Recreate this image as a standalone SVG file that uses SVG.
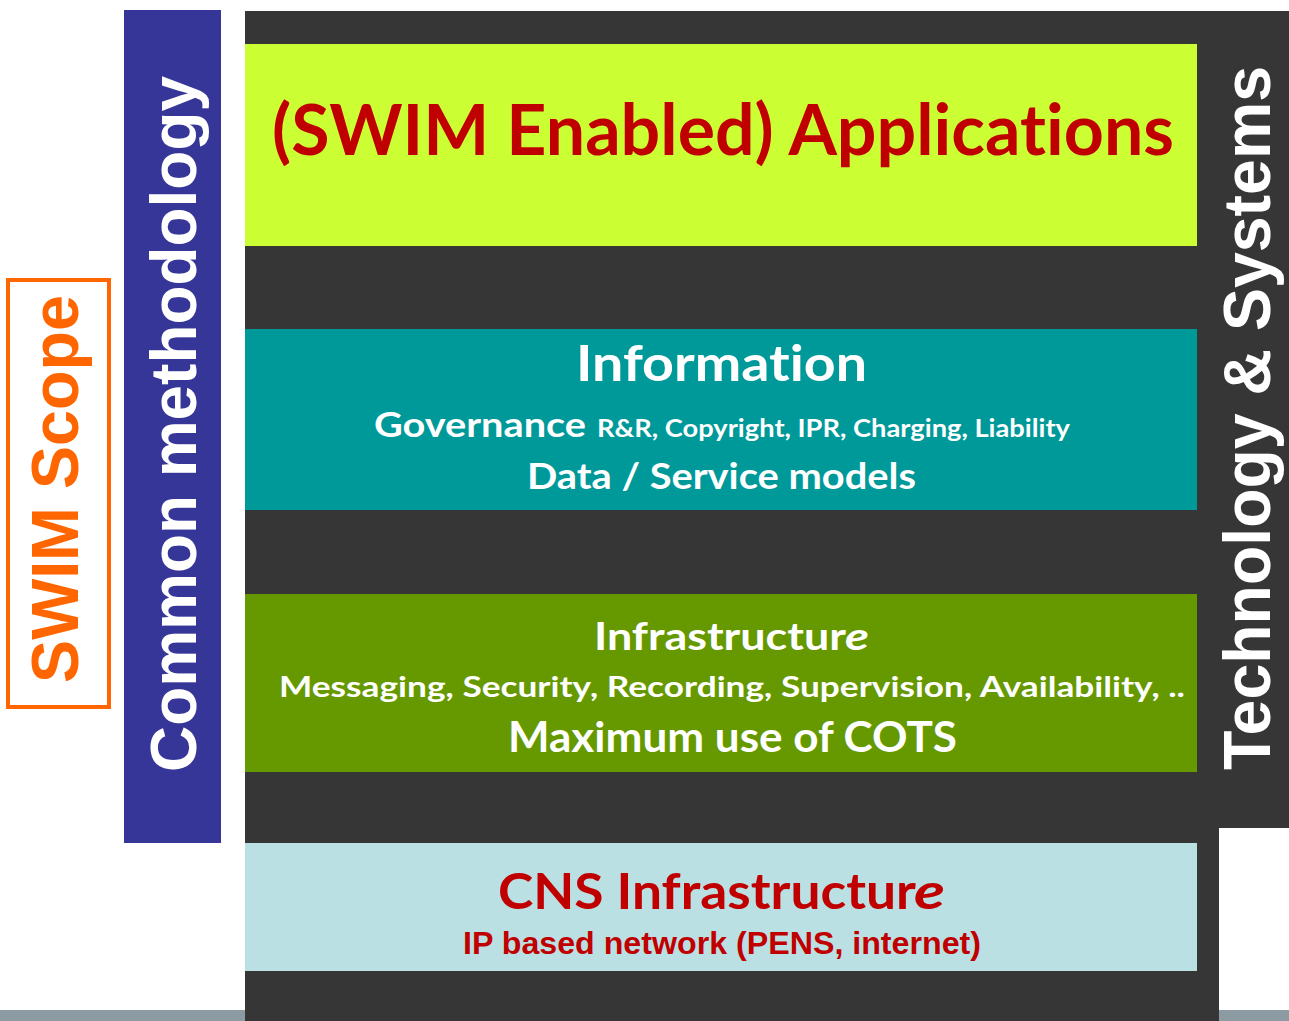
<svg xmlns="http://www.w3.org/2000/svg" width="1289" height="1021" viewBox="0 0 1289 1021">
<style>
.cal{font-family:Lato,"Open Sans","Liberation Sans",sans-serif;font-weight:bold;font-variant-ligatures:none;font-feature-settings:"liga" 0}
.ari{font-family:"Liberation Sans",Arial,sans-serif;font-weight:bold}
.w{fill:#FFFFFF}
.r{fill:#C00000}
</style>
<rect x="0" y="0" width="1289" height="1021" fill="#FFFFFF"/>
<rect x="0" y="1010" width="1289" height="11" fill="#8C9AA2"/>
<g id="background">
<rect x="245" y="11" width="974" height="1010" fill="#363636"/>
<rect x="1219" y="11" width="70" height="817" fill="#363636"/>
</g>
<g id="swim-scope">
<rect x="8" y="280" width="101" height="427" fill="none" stroke="#FF6600" stroke-width="4"/>
<text class="ari" font-size="67" fill="#FF6600" text-anchor="middle" textLength="388" lengthAdjust="spacingAndGlyphs" transform="translate(78,489) rotate(-90)">SWIM Scope</text>
</g>
<g id="common-methodology">
<rect x="124" y="10" width="97" height="833" fill="#363698"/>
<text class="ari w" font-size="64" text-anchor="middle" textLength="696" lengthAdjust="spacingAndGlyphs" transform="translate(196,424) rotate(-90)">Common methodology</text>
</g>
<g id="technology-systems">
<text class="ari w" font-size="66" text-anchor="middle" textLength="704" lengthAdjust="spacingAndGlyphs" transform="translate(1270,418) rotate(-90)">Technology &amp; Systems</text>
</g>
<g id="applications">
<rect x="245" y="44" width="952" height="202" fill="#CCFF33"/>
<text class="cal r" x="272" y="155" font-size="70" textLength="902" lengthAdjust="spacingAndGlyphs">(SWIM Enabled) Applications</text>
</g>
<g id="information">
<rect x="245" y="329" width="952" height="181" fill="#009999"/>
<text class="cal w" x="576" y="381" font-size="49" textLength="291" lengthAdjust="spacingAndGlyphs">Information</text>
<text class="cal w" x="374" y="437" font-size="35" textLength="212" lengthAdjust="spacingAndGlyphs">Governance</text>
<text class="cal w" x="597" y="437" font-size="24" textLength="473" lengthAdjust="spacingAndGlyphs">R&amp;R, Copyright, IPR, Charging, Liability</text>
<text class="cal w" x="527" y="489" font-size="36" textLength="389" lengthAdjust="spacingAndGlyphs">Data / Service models</text>
</g>
<g id="infrastructure">
<rect x="245" y="594" width="952" height="178" fill="#669900"/>
<text class="cal w" x="594" y="650" font-size="38" textLength="252" lengthAdjust="spacingAndGlyphs">Infrastructur</text>
<text class="cal w" x="845" y="650" font-size="38" font-style="italic" textLength="24" lengthAdjust="spacingAndGlyphs">e</text>
<text class="cal w" x="279" y="697" font-size="28" textLength="906" lengthAdjust="spacingAndGlyphs">Messaging, Security, Recording, Supervision, Availability, ..</text>
<text class="cal w" x="508" y="752" font-size="42" textLength="449" lengthAdjust="spacingAndGlyphs">Maximum use of COTS</text>
</g>
<g id="cns-infrastructure">
<rect x="245" y="843" width="952" height="128" fill="#BAE0E3"/>
<text class="cal r" x="498" y="909" font-size="49" textLength="418" lengthAdjust="spacingAndGlyphs">CNS Infrastructur</text>
<text class="cal r" x="914" y="909" font-size="49" font-style="italic" textLength="31" lengthAdjust="spacingAndGlyphs">e</text>
<text class="ari r" x="463" y="954" font-size="31" textLength="518" lengthAdjust="spacingAndGlyphs">IP based network (PENS, internet)</text>
</g>
<g id="connectors"></g>
</svg>
